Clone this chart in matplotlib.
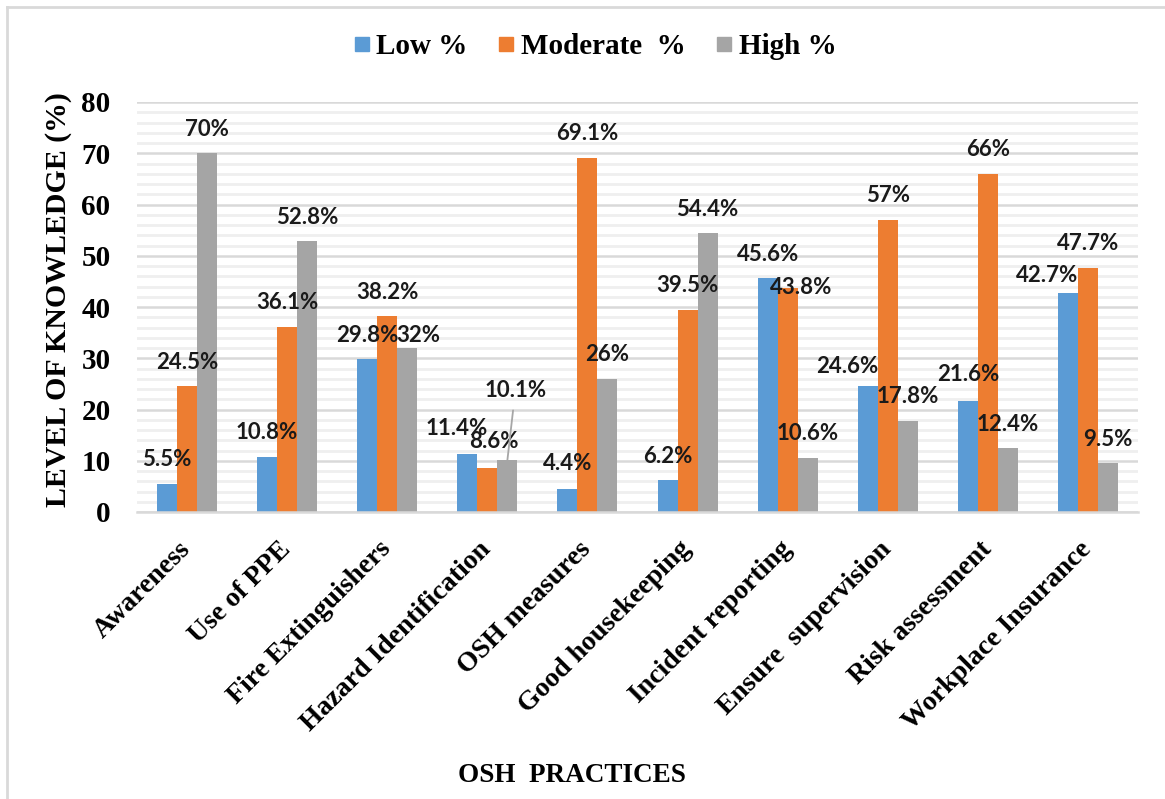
import matplotlib
matplotlib.use("Agg")
import matplotlib.pyplot as plt
from matplotlib.lines import Line2D
import numpy as np

categories = ["Awareness", "Use of PPE", "Fire Extinguishers", "Hazard Identification",
              "OSH measures", "Good housekeeping", "Incident reporting",
              "Ensure  supervision", "Risk assessment", "Workplace Insurance"]
low = [5.5, 10.8, 29.8, 11.4, 4.4, 6.2, 45.6, 24.6, 21.6, 42.7]
moderate = [24.5, 36.1, 38.2, 8.6, 69.1, 39.5, 43.8, 57, 66, 47.7]
high = [70, 52.8, 32, 10.1, 26, 54.4, 10.6, 17.8, 12.4, 9.5]
series_names = ["Low %", "Moderate  %", "High %"]
colors = ["#5B9BD5", "#ED7D31", "#A5A5A5"]
yticks = [0, 10, 20, 30, 40, 50, 60, 70, 80]

# label placement tweaks (series index, category index) -> (dx, dy) in pixels
label_offsets = {
    (2, 2): (11, 13),
    (1, 6): (13, 0),
    (0, 9): (-21, 18),
    (0, 3): (-11, 25),
    (1, 3): (7, 26),
    (0, 7): (-20, 19),
    (0, 4): (0, 26),
    (0, 8): (0, 27),
}
callout = {(2, 3): (8, 70)}

W, H = 1165, 799
fig = plt.figure(figsize=(W / 100, H / 100), dpi=100)
ax = fig.add_axes([137 / W, 1 - 512 / H, 1001 / W, 410 / H])

serif = "Liberation Serif"
labfont = "Lato"
lab_kw = dict(ha="center", va="center", fontsize=16, fontweight="bold",
              family=labfont, color="#1a1a1a", zorder=5)

x = np.arange(len(categories))
bw = 0.2
series = [low, moderate, high]
for i, (vals, c, name) in enumerate(zip(series, colors, series_names)):
    xs = x + (i - 1) * bw
    ax.bar(xs, vals, width=bw, color=c, label=name, zorder=3)
    for j, (xx, v) in enumerate(zip(xs, vals)):
        txt = f"{v:g}%"
        if (i, j) in callout:
            dx, dy = callout[(i, j)]
            ax.annotate(txt, xy=(xx, v), xytext=(dx, dy), textcoords="offset pixels",
                        arrowprops=dict(arrowstyle="-", color="#a6a6a6", lw=1.3,
                                        shrinkA=5, shrinkB=0), **lab_kw)
            continue
        dx, dy = label_offsets.get((i, j), (0, 24))
        ax.annotate(txt, xy=(xx, v), xytext=(dx, dy), textcoords="offset pixels", **lab_kw)

ax.set_xlim(-0.5, len(categories) - 0.5)
ax.set_ylim(0, 80)
ax.set_yticks(yticks)
ax.set_yticks(np.arange(0, 81, 2), minor=True)
ax.set_yticklabels([str(t) for t in yticks], fontsize=21, fontweight="bold", family=serif)
ax.tick_params(axis="y", which="both", length=0, pad=19)
ax.grid(axis="y", which="minor", color="#efefef", lw=2.0, zorder=0)
ax.grid(axis="y", which="major", color="#d9d9d9", lw=1.8, zorder=1)
ax.set_xticks(x)
ax.set_xticklabels(categories, rotation=45, ha="right", va="center", rotation_mode="anchor",
                   fontsize=20, fontweight="bold", family=serif)
ax.tick_params(axis="x", length=0, pad=24)
for s in ["top", "right", "left"]:
    ax.spines[s].set_visible(False)
ax.spines["bottom"].set_color("#d9d9d9")
ax.spines["bottom"].set_linewidth(1.8)
ax.spines["bottom"].set_zorder(4)

fig.text(59 / W, 1 - 300 / H, "LEVEL OF KNOWLEDGE (%)", rotation=90, ha="center",
         va="center", fontsize=21.5, fontweight="bold", family=serif)
fig.text(572 / W, 1 - 775 / H, "OSH  PRACTICES", ha="center", va="center",
         fontsize=19.5, fontweight="bold", family=serif)

handles = [Line2D([0], [0], marker="s", color="none", markerfacecolor=c,
                  markeredgecolor=c, markersize=9.5) for c in colors]
fig.legend(handles, series_names, loc="center", bbox_to_anchor=(596 / W, 1 - 47 / H),
           ncol=3, frameon=False, prop={"family": serif, "weight": "bold", "size": 21},
           handletextpad=0.28, columnspacing=1.1, handlelength=0.45,
           borderpad=0, borderaxespad=0)

# frame lines at top and left
fig.add_artist(Line2D([7 / W, 1], [1 - 7 / H, 1 - 7 / H], color="#d9d9d9", lw=2,
                      transform=fig.transFigure))
fig.add_artist(Line2D([7 / W, 7 / W], [1 - 7 / H, 0], color="#d9d9d9", lw=2,
                      transform=fig.transFigure))

fig.savefig("out.png", dpi=100, facecolor="white")
